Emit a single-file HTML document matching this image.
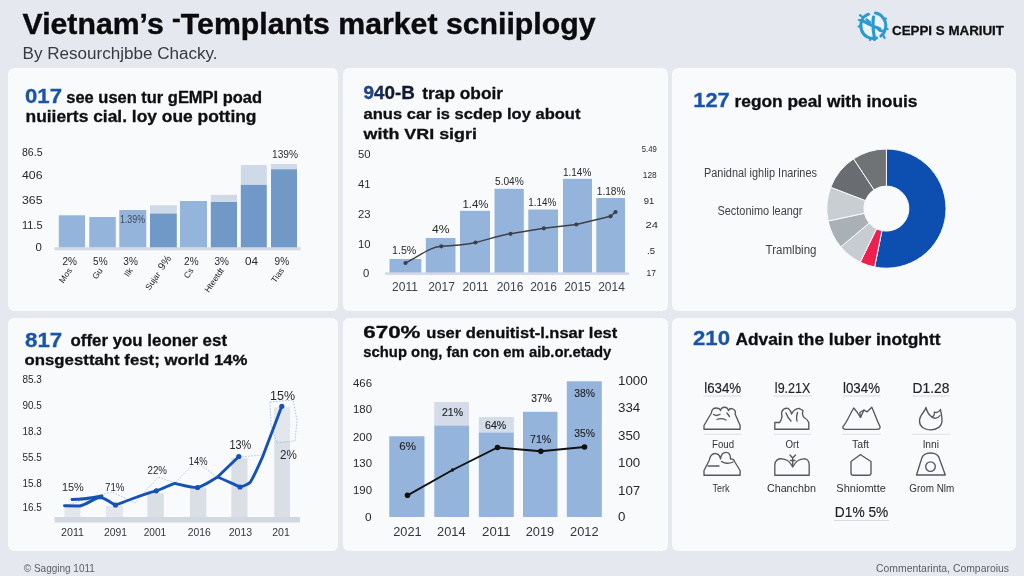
<!DOCTYPE html>
<html lang="en"><head><meta charset="utf-8"><title>Vietnam’s Templants market scniiplogy</title>
<style>
html,body{margin:0;padding:0;}
body{width:1024px;height:576px;overflow:hidden;background:#e5e8ef;font-family:"Liberation Sans", sans-serif;}
#root{position:relative;width:1024px;height:576px;background:linear-gradient(180deg,#e5e8ef 0%,#e5e8ee 100%);overflow:hidden;}
.p{position:absolute;background:#f9fafc;border-radius:6px;filter:blur(0.5px);}
svg{position:absolute;left:0;top:0;filter:blur(0.45px);}
svg text{font-family:"Liberation Sans", sans-serif;}
</style></head><body>
<div id="root">
<div class="p" style="left:8px;top:68.3px;width:330.3px;height:243.2px"></div><div class="p" style="left:343.3px;top:68.3px;width:324.3px;height:243.2px"></div><div class="p" style="left:672.3px;top:68.3px;width:343.3px;height:243.2px"></div><div class="p" style="left:8px;top:317.5px;width:330.3px;height:233.7px"></div><div class="p" style="left:343.3px;top:317.5px;width:324.3px;height:233.7px"></div><div class="p" style="left:672.3px;top:317.5px;width:343.3px;height:233.7px"></div>
<svg width="1024" height="576" viewBox="0 0 1024 576">
<text x="22.5" y="33.9" font-size="30" font-weight="bold" fill="#0b0b0d" stroke="#0b0b0d" stroke-width="0.4" textLength="573" lengthAdjust="spacingAndGlyphs">Vietnam’s <tspan dy="-7" font-size="26">-</tspan><tspan dy="7">Templants market scniiplogy</tspan></text>
<text x="22.5" y="58.8" font-size="15.8" fill="#373a40" textLength="195" lengthAdjust="spacingAndGlyphs">By Resourchjbbe Chacky.</text>
<circle cx="873" cy="26" r="10.5" fill="#edf2f7"/>
<g fill="none" stroke="#2a9ad0" stroke-linecap="round" stroke-linejoin="round"><path d="M868.5 14.2 C862 16.5 859.5 23 861.5 30 C863.5 36.5 870 39.5 876.500 38" stroke-width="3"/><path d="M875.5 13 C880 13.5 883 17 885 21 C887 26 885.5 32.5 881 36" stroke-width="3"/><path d="M873.500 17 C872.500 23 873 29 874 35 L874.500 39.500 M864 21.500 C869 24.500 875 27 880 29" stroke-width="3.2"/><path d="M866.500 19.500 L870 22.500 M878 29 C879.500 31 881.500 31.500 883.500 30.500" stroke-width="2.4"/><path d="M860 15.200 L862.500 17.200 M858.800 20 L861 20.400 M858.600 26.500 L860.800 26 M884.800 19.200 L886 18.600 M886.300 28.800 L887.600 29 M883.500 35.800 L884.600 38 M870 40 L870.500 38.500" stroke-width="2.2"/></g>
<text x="892" y="34.5" font-size="13" fill="#111" font-weight="bold" stroke="#111" stroke-width="0.3" textLength="112" lengthAdjust="spacingAndGlyphs">CEPPI S MARIUIT</text>
<text x="25" y="103.2" font-size="21" fill="#1b55a8" font-weight="bold" stroke="#1b55a8" stroke-width="0.3" textLength="37" lengthAdjust="spacingAndGlyphs">017</text>
<text x="66.3" y="102.8" font-size="15.8" fill="#0d0e11" font-weight="bold" stroke="#0d0e11" stroke-width="0.3" textLength="195.7" lengthAdjust="spacingAndGlyphs">see usen tur gEMPI poad</text>
<text x="25.5" y="121.7" font-size="15.8" fill="#0f1013" font-weight="bold" stroke="#0f1013" stroke-width="0.3" textLength="231" lengthAdjust="spacingAndGlyphs">nuiierts cial. loy oue potting</text>
<text x="22" y="155.6" font-size="11.4" fill="#26282c" textLength="20.5" lengthAdjust="spacingAndGlyphs">86.5</text>
<text x="22" y="179.1" font-size="11.4" fill="#26282c" textLength="20.5" lengthAdjust="spacingAndGlyphs">406</text>
<text x="22" y="204.1" font-size="11.4" fill="#26282c" textLength="20.5" lengthAdjust="spacingAndGlyphs">365</text>
<text x="22" y="229.1" font-size="11.4" fill="#26282c" textLength="20.5" lengthAdjust="spacingAndGlyphs">11.5</text>
<text x="35.5" y="251.1" font-size="11.4" fill="#26282c">0</text>
<rect x="54.5" y="247.2" width="246.0" height="3.1" fill="#d3dae5"/>
<rect x="58.8" y="215.3" width="26.2" height="32.0" fill="#95b4dc"/>
<rect x="89.3" y="217" width="26.5" height="30.3" fill="#95b4dc"/>
<rect x="119.3" y="210" width="27.0" height="37.3" fill="#95b4dc"/>
<rect x="150" y="205.3" width="26.8" height="8.2" fill="#cfdae8"/>
<rect x="150" y="213.5" width="26.8" height="33.8" fill="#7199c7"/>
<rect x="180" y="201" width="27" height="46.3" fill="#95b4dc"/>
<rect x="210.8" y="194.8" width="26.2" height="7.2" fill="#cfdae8"/>
<rect x="210.8" y="202" width="26.2" height="45.3" fill="#7199c7"/>
<rect x="240.8" y="165" width="26.0" height="19.8" fill="#cfdae8"/>
<rect x="240.8" y="184.8" width="26.0" height="62.5" fill="#7199c7"/>
<rect x="271" y="164" width="26" height="5.3" fill="#cfdae8"/>
<rect x="271" y="169.3" width="26" height="78.0" fill="#7199c7"/>
<text x="132.5" y="222.5" font-size="10.5" fill="#3c4a5c" text-anchor="middle" textLength="25" lengthAdjust="spacingAndGlyphs">1.39%</text>
<text x="285" y="158" font-size="10.5" fill="#2c2e33" text-anchor="middle" textLength="26" lengthAdjust="spacingAndGlyphs">139%</text>
<text x="69.7" y="265" font-size="11.5" fill="#26282c" text-anchor="middle" textLength="14.5" lengthAdjust="spacingAndGlyphs">2%</text>
<text transform="translate(72.4,270.5) rotate(-55)" font-size="8.5" fill="#26282c" text-anchor="end">Mos</text>
<text x="100.3" y="265" font-size="11.5" fill="#26282c" text-anchor="middle" textLength="14.5" lengthAdjust="spacingAndGlyphs">5%</text>
<text transform="translate(103.0,270.5) rotate(-55)" font-size="8.5" fill="#26282c" text-anchor="end">Gu</text>
<text x="130.6" y="265" font-size="11.5" fill="#26282c" text-anchor="middle" textLength="14.5" lengthAdjust="spacingAndGlyphs">3%</text>
<text transform="translate(133.3,270.5) rotate(-55)" font-size="8.5" fill="#26282c" text-anchor="end">Ilk</text>
<text transform="translate(167.4,264.5) rotate(-55)" font-size="10.5" fill="#26282c" text-anchor="middle">9%</text>
<text transform="translate(160.9,274.5) rotate(-55)" font-size="8.5" fill="#26282c" text-anchor="end">Sujar</text>
<text x="191.3" y="265" font-size="11.5" fill="#26282c" text-anchor="middle" textLength="14.5" lengthAdjust="spacingAndGlyphs">2%</text>
<text transform="translate(194.0,270.5) rotate(-55)" font-size="8.5" fill="#26282c" text-anchor="end">Cs</text>
<text x="221.7" y="265" font-size="11.5" fill="#26282c" text-anchor="middle" textLength="14.5" lengthAdjust="spacingAndGlyphs">3%</text>
<text transform="translate(224.4,270.5) rotate(-55)" font-size="8.5" fill="#26282c" text-anchor="end">Hteetdt</text>
<text x="251.6" y="265" font-size="11.5" fill="#26282c" text-anchor="middle" textLength="13" lengthAdjust="spacingAndGlyphs">04</text>
<text x="281.8" y="265" font-size="11.5" fill="#26282c" text-anchor="middle" textLength="14.5" lengthAdjust="spacingAndGlyphs">9%</text>
<text transform="translate(284.5,270.5) rotate(-55)" font-size="8.5" fill="#26282c" text-anchor="end">Tias</text>
<text x="363.5" y="98.8" font-size="17.5" font-weight="bold" stroke="#121a30" stroke-width="0.3" fill="#121a30" textLength="51.3" lengthAdjust="spacingAndGlyphs"><tspan fill="#1c4a9c">9</tspan><tspan fill="#17306a">4</tspan>0-B</text>
<text x="422.3" y="98.8" font-size="16" fill="#0d0e11" font-weight="bold" stroke="#0d0e11" stroke-width="0.3" textLength="80.7" lengthAdjust="spacingAndGlyphs">trap oboir</text>
<text x="363.5" y="118.8" font-size="15.2" fill="#0f1013" font-weight="bold" stroke="#0f1013" stroke-width="0.3" textLength="217" lengthAdjust="spacingAndGlyphs">anus car is scdep loy about</text>
<text x="363.5" y="138.8" font-size="15.2" fill="#0f1013" font-weight="bold" stroke="#0f1013" stroke-width="0.3" textLength="113.5" lengthAdjust="spacingAndGlyphs">with VRI sigri</text>
<text x="358" y="157.9" font-size="11.3" fill="#2c2e33">50</text>
<text x="358" y="187.9" font-size="11.3" fill="#2c2e33">41</text>
<text x="358" y="217.9" font-size="11.3" fill="#2c2e33">23</text>
<text x="358" y="247.9" font-size="11.3" fill="#2c2e33">10</text>
<text x="363" y="276.6" font-size="11.3" fill="#2c2e33">0</text>
<text x="649.3" y="151.5" font-size="9.8" fill="#26282c" text-anchor="middle" textLength="15" lengthAdjust="spacingAndGlyphs">5.49</text>
<text x="649.8" y="178.0" font-size="9.8" fill="#26282c" text-anchor="middle" textLength="14" lengthAdjust="spacingAndGlyphs">128</text>
<text x="649" y="203.5" font-size="9.8" fill="#26282c" text-anchor="middle" textLength="10.5" lengthAdjust="spacingAndGlyphs">91</text>
<text x="651.8" y="228.0" font-size="9.8" fill="#26282c" text-anchor="middle" textLength="12.5" lengthAdjust="spacingAndGlyphs">24</text>
<text x="651" y="253.5" font-size="9.8" fill="#26282c" text-anchor="middle" textLength="8" lengthAdjust="spacingAndGlyphs">.5</text>
<text x="651.3" y="276.0" font-size="9.8" fill="#26282c" text-anchor="middle" textLength="9.5" lengthAdjust="spacingAndGlyphs">17</text>
<rect x="385" y="272.3" width="244" height="2.7" fill="#d3dae5"/>
<rect x="389.5" y="259" width="31.8" height="13.5" fill="#95b4dc"/>
<rect x="425.8" y="238" width="29.7" height="34.5" fill="#95b4dc"/>
<rect x="460" y="210.8" width="30" height="61.7" fill="#95b4dc"/>
<rect x="494.5" y="188.8" width="29.3" height="83.7" fill="#95b4dc"/>
<rect x="528.3" y="209.5" width="29.7" height="63.0" fill="#95b4dc"/>
<rect x="563" y="178.8" width="29" height="93.7" fill="#95b4dc"/>
<rect x="596.3" y="198" width="28.7" height="74.5" fill="#95b4dc"/>
<path d="M405.5 263 C420 256 428 247.5 441.3 246.3 C455 245 463 245.5 475.5 242.5 C488 239.5 497 236 510.5 233.8 L543.8 228.3 L576.3 224.5 L610.5 216.3 L615.5 212" fill="none" stroke="#3c4148" stroke-width="1.4"/>
<circle cx="405.5" cy="263" r="2.1" fill="#3c4148"/>
<circle cx="441.3" cy="246.3" r="2.1" fill="#3c4148"/>
<circle cx="475.5" cy="242.5" r="2.1" fill="#3c4148"/>
<circle cx="510.5" cy="233.8" r="2.1" fill="#3c4148"/>
<circle cx="543.8" cy="228.3" r="2.1" fill="#3c4148"/>
<circle cx="576.3" cy="224.5" r="2.1" fill="#3c4148"/>
<circle cx="610.5" cy="216.3" r="2.1" fill="#3c4148"/>
<circle cx="615.5" cy="212" r="2.1" fill="#3c4148"/>
<text x="392" y="254.3" font-size="11.5" fill="#26282c" textLength="24.3" lengthAdjust="spacingAndGlyphs">1.5%</text>
<text x="432" y="233.3" font-size="11.5" fill="#26282c" textLength="17.5" lengthAdjust="spacingAndGlyphs">4%</text>
<text x="462.5" y="208" font-size="11.5" fill="#26282c" textLength="26.0" lengthAdjust="spacingAndGlyphs">1.4%</text>
<text x="495" y="185.3" font-size="11.5" fill="#26282c" textLength="28.8" lengthAdjust="spacingAndGlyphs">5.04%</text>
<text x="528.3" y="206" font-size="11.5" fill="#26282c" textLength="28.0" lengthAdjust="spacingAndGlyphs">1.14%</text>
<text x="563" y="175.5" font-size="11.5" fill="#26282c" textLength="28.3" lengthAdjust="spacingAndGlyphs">1.14%</text>
<text x="596.8" y="194.5" font-size="11.5" fill="#26282c" textLength="28.7" lengthAdjust="spacingAndGlyphs">1.18%</text>
<text x="405" y="290.5" font-size="12" fill="#3f4247" text-anchor="middle">2011</text>
<text x="441.5" y="290.5" font-size="12" fill="#3f4247" text-anchor="middle">2017</text>
<text x="475.5" y="290.5" font-size="12" fill="#3f4247" text-anchor="middle">2011</text>
<text x="510" y="290.5" font-size="12" fill="#3f4247" text-anchor="middle">2016</text>
<text x="543.5" y="290.5" font-size="12" fill="#3f4247" text-anchor="middle">2016</text>
<text x="577.5" y="290.5" font-size="12" fill="#3f4247" text-anchor="middle">2015</text>
<text x="611.5" y="290.5" font-size="12" fill="#3f4247" text-anchor="middle">2014</text>
<text x="693.3" y="106.8" font-size="20.5" fill="#1b55a8" font-weight="bold" stroke="#1b55a8" stroke-width="0.3" textLength="36.5" lengthAdjust="spacingAndGlyphs">127</text>
<text x="734.5" y="106.5" font-size="16" fill="#0d0e11" font-weight="bold" stroke="#0d0e11" stroke-width="0.3" textLength="183.0" lengthAdjust="spacingAndGlyphs">regon peal with inouis</text>
<text x="817" y="177.3" font-size="12" fill="#3f4247" text-anchor="end" textLength="113" lengthAdjust="spacingAndGlyphs">Panidnal ighlip Inarines</text>
<text x="802.5" y="215" font-size="12" fill="#3f4247" text-anchor="end" textLength="85" lengthAdjust="spacingAndGlyphs">Sectonimo leangr</text>
<text x="816.5" y="253.7" font-size="12" fill="#3f4247" text-anchor="end" textLength="51" lengthAdjust="spacingAndGlyphs">Tramlbing</text>
<path d="M886.4 149.0 A59.6 59.6 0 1 1 874.62 267.02 L881.95 230.66 A22.5 22.5 0 1 0 886.4 186.1 Z" fill="#0c4fb0" stroke="#f9fafc" stroke-width="1"/>
<path d="M874.62 267.02 A59.6 59.6 0 0 1 860.27 262.17 L876.54 228.82 A22.5 22.5 0 0 0 881.95 230.66 Z" fill="#ef1f4f" stroke="#f9fafc" stroke-width="1"/>
<path d="M860.27 262.17 A59.6 59.6 0 0 1 840.74 246.91 L869.16 223.06 A22.5 22.5 0 0 0 876.54 228.82 Z" fill="#c6ccd1" stroke="#f9fafc" stroke-width="1"/>
<path d="M840.74 246.91 A59.6 59.6 0 0 1 828.1 220.99 L864.39 213.28 A22.5 22.5 0 0 0 869.16 223.06 Z" fill="#aab1b6" stroke="#f9fafc" stroke-width="1"/>
<path d="M828.1 220.99 A59.6 59.6 0 0 1 830.76 187.24 L865.39 200.54 A22.5 22.5 0 0 0 864.39 213.28 Z" fill="#c8ced2" stroke="#f9fafc" stroke-width="1"/>
<path d="M830.76 187.24 A59.6 59.6 0 0 1 853.59 158.84 L874.01 189.82 A22.5 22.5 0 0 0 865.39 200.54 Z" fill="#696c70" stroke="#f9fafc" stroke-width="1"/>
<path d="M853.59 158.84 A59.6 59.6 0 0 1 886.4 149.0 L886.4 186.1 A22.5 22.5 0 0 0 874.01 189.82 Z" fill="#707376" stroke="#f9fafc" stroke-width="1"/>
<text x="25" y="346.8" font-size="21" fill="#1b55a8" font-weight="bold" stroke="#1b55a8" stroke-width="0.3" textLength="37.3" lengthAdjust="spacingAndGlyphs">817</text>
<text x="70.5" y="346.3" font-size="16.3" fill="#0d0e11" font-weight="bold" stroke="#0d0e11" stroke-width="0.3" textLength="156.5" lengthAdjust="spacingAndGlyphs">offer you leoner est</text>
<text x="24.5" y="365" font-size="14.8" fill="#0f1013" font-weight="bold" stroke="#0f1013" stroke-width="0.3" textLength="223" lengthAdjust="spacingAndGlyphs">onsgesttaht fest; world 14%</text>
<text x="22.5" y="382.90000000000003" font-size="11.4" fill="#26282c" textLength="19.3" lengthAdjust="spacingAndGlyphs">85.3</text>
<text x="22.5" y="409.1" font-size="11.4" fill="#26282c" textLength="19.3" lengthAdjust="spacingAndGlyphs">90.5</text>
<text x="22.5" y="434.90000000000003" font-size="11.4" fill="#26282c" textLength="19.3" lengthAdjust="spacingAndGlyphs">18.3</text>
<text x="22.5" y="461.1" font-size="11.4" fill="#26282c" textLength="19.3" lengthAdjust="spacingAndGlyphs">55.5</text>
<text x="22.5" y="486.6" font-size="11.4" fill="#26282c" textLength="19.3" lengthAdjust="spacingAndGlyphs">15.8</text>
<text x="22.5" y="511.1" font-size="11.4" fill="#26282c" textLength="19.3" lengthAdjust="spacingAndGlyphs">16.5</text>
<rect x="64.5" y="507" width="16.0" height="10.5" fill="#e3e7ed"/>
<rect x="106" y="505.8" width="17" height="11.7" fill="#e3e7ed"/>
<rect x="147.5" y="493.3" width="16.3" height="24.2" fill="#dadfe6"/>
<rect x="190" y="487.5" width="16.3" height="30.0" fill="#dadfe6"/>
<rect x="231.3" y="458.3" width="16.2" height="59.2" fill="#dadfe6"/>
<rect x="274.3" y="407.5" width="15.7" height="110.0" fill="#dadfe6"/>
<rect x="54.5" y="517" width="245.5" height="5.5" fill="#d2d8e0"/>
<rect x="274.3" y="407.5" width="15.7" height="33.5" fill="#e3e7ed"/>
<path d="M64 506 L100 495 L112 492 L135 503 L158 477 L175 483 L196 461 L218 478 L240 457 L262 455" fill="none" stroke="#8fb0e0" stroke-width="0.8" stroke-dasharray="1.5 1.5" opacity="0.9"/>
<path d="M270 402 L293 400 L297 420 L295 441 L277 443 L271 425 Z" fill="none" stroke="#9db4d6" stroke-width="0.8" stroke-dasharray="1.5 1.5"/>
<path d="M64.5 505.8 L80 506 C88 504 94 498 100 497.5 C106 498 110 503 115.5 505 C128 501 142 494 156.3 490.8 C163 489 169 485 175 483.3 C182 485 190 487.5 197.5 487.5 C205 485.5 211 481 217.500 477 C225 480 233 484 240 487 C244 486 248 484.5 250.5 482 C255 474 259 465 263 455.8 L281.8 406.3" fill="none" stroke="#1552b6" stroke-width="2.9" stroke-linejoin="round" stroke-linecap="round"/>
<path d="M217.5 477 L238.8 456.5" fill="none" stroke="#1552b6" stroke-width="2.9" stroke-linecap="round"/>
<path d="M72 499.5 C82 499.5 92 498 102 496" fill="none" stroke="#1552b6" stroke-width="2.9" stroke-linecap="round"/>
<circle cx="115.5" cy="505" r="2.6" fill="#1552b6"/>
<circle cx="156.3" cy="490.8" r="2.6" fill="#1552b6"/>
<circle cx="197.5" cy="487.5" r="2.6" fill="#1552b6"/>
<circle cx="240" cy="487" r="2.6" fill="#1552b6"/>
<circle cx="238.8" cy="456.5" r="2.6" fill="#1552b6"/>
<circle cx="281.8" cy="406.3" r="2.6" fill="#1552b6"/>
<text x="62" y="490.7" font-size="11.7" fill="#26282c" textLength="21.8" lengthAdjust="spacingAndGlyphs">15%</text>
<text x="105" y="490.7" font-size="11.7" fill="#26282c" textLength="19.5" lengthAdjust="spacingAndGlyphs">71%</text>
<text x="147.5" y="474.2" font-size="11.5" fill="#26282c" textLength="19.5" lengthAdjust="spacingAndGlyphs">22%</text>
<text x="188.8" y="464.6" font-size="11.5" fill="#26282c" textLength="18.7" lengthAdjust="spacingAndGlyphs">14%</text>
<text x="229.5" y="448.8" font-size="12" fill="#26282c" textLength="21.8" lengthAdjust="spacingAndGlyphs">13%</text>
<text x="270" y="399.6" font-size="13" fill="#26282c" textLength="25" lengthAdjust="spacingAndGlyphs">15%</text>
<text x="280" y="459" font-size="12" fill="#26282c" textLength="16.8" lengthAdjust="spacingAndGlyphs">2%</text>
<text x="72.5" y="535.8" font-size="11.5" fill="#33363b" text-anchor="middle" textLength="23" lengthAdjust="spacingAndGlyphs">2011</text>
<text x="115.5" y="535.8" font-size="11.5" fill="#33363b" text-anchor="middle" textLength="23" lengthAdjust="spacingAndGlyphs">2091</text>
<text x="155" y="535.8" font-size="11.5" fill="#33363b" text-anchor="middle" textLength="22.5" lengthAdjust="spacingAndGlyphs">2001</text>
<text x="199.3" y="535.8" font-size="11.5" fill="#33363b" text-anchor="middle" textLength="23" lengthAdjust="spacingAndGlyphs">2016</text>
<text x="240.5" y="535.8" font-size="11.5" fill="#33363b" text-anchor="middle" textLength="23.5" lengthAdjust="spacingAndGlyphs">2013</text>
<text x="281" y="535.8" font-size="11.5" fill="#33363b" text-anchor="middle" textLength="17.5" lengthAdjust="spacingAndGlyphs">201</text>
<text x="363.3" y="337.5" font-size="16.5" fill="#0d0e11" font-weight="bold" stroke="#0d0e11" stroke-width="0.3" textLength="57.2" lengthAdjust="spacingAndGlyphs">670%</text>
<text x="426.3" y="337.5" font-size="15.5" fill="#0d0e11" font-weight="bold" stroke="#0d0e11" stroke-width="0.3" textLength="191" lengthAdjust="spacingAndGlyphs">user denuitist-l.nsar lest</text>
<text x="363.3" y="357" font-size="15.5" fill="#0f1013" font-weight="bold" stroke="#0f1013" stroke-width="0.3" textLength="248" lengthAdjust="spacingAndGlyphs">schup ong, fan con em aib.or.etady</text>
<text x="353" y="387.2" font-size="11.8" fill="#26282c" textLength="19" lengthAdjust="spacingAndGlyphs">466</text>
<text x="353" y="413.0" font-size="11.8" fill="#26282c" textLength="19" lengthAdjust="spacingAndGlyphs">180</text>
<text x="353" y="440.5" font-size="11.8" fill="#26282c" textLength="19" lengthAdjust="spacingAndGlyphs">200</text>
<text x="353" y="466.7" font-size="11.8" fill="#26282c" textLength="19" lengthAdjust="spacingAndGlyphs">130</text>
<text x="353" y="494.2" font-size="11.8" fill="#26282c" textLength="19" lengthAdjust="spacingAndGlyphs">190</text>
<text x="365" y="521.3" font-size="11.8" fill="#26282c">0</text>
<text x="618" y="385.2" font-size="13.3" fill="#26282c">1000</text>
<text x="618" y="412.2" font-size="13.3" fill="#26282c">334</text>
<text x="618" y="439.7" font-size="13.3" fill="#26282c">350</text>
<text x="618" y="467.2" font-size="13.3" fill="#26282c">100</text>
<text x="618" y="494.7" font-size="13.3" fill="#26282c">107</text>
<text x="618" y="521.2" font-size="13.3" fill="#26282c">0</text>
<rect x="389.3" y="436.3" width="35.2" height="80.7" fill="#95b4dc"/>
<rect x="434.3" y="402" width="34.7" height="23.5" fill="#d3dce8"/>
<rect x="434.3" y="425.5" width="34.7" height="91.5" fill="#95b4dc"/>
<rect x="478.8" y="417" width="35.0" height="15.5" fill="#d3dce8"/>
<rect x="478.8" y="432.5" width="35.0" height="84.5" fill="#95b4dc"/>
<rect x="523" y="411.8" width="34.5" height="105.2" fill="#95b4dc"/>
<rect x="566.8" y="381.3" width="35.0" height="135.7" fill="#95b4dc"/>
<polyline points="407.5,495.3 452.5,470 497.5,447.5 540.8,451.3 584.5,447" fill="none" stroke="#111" stroke-width="1.9"/>
<circle cx="407.5" cy="495.3" r="2.8" fill="#111"/>
<circle cx="452.5" cy="470" r="1.7" fill="#111"/>
<circle cx="497.5" cy="447.5" r="2.8" fill="#111"/>
<circle cx="540.8" cy="451.3" r="2.8" fill="#111"/>
<circle cx="584.5" cy="447" r="2.8" fill="#111"/>
<text x="399.3" y="450.3" font-size="11" fill="#23272e" stroke="#23272e" stroke-width="0.15" textLength="16.7" lengthAdjust="spacingAndGlyphs">6%</text>
<text x="442" y="415.7" font-size="11" fill="#23272e" stroke="#23272e" stroke-width="0.15" textLength="21" lengthAdjust="spacingAndGlyphs">21%</text>
<text x="485" y="429.3" font-size="11" fill="#23272e" stroke="#23272e" stroke-width="0.15" textLength="21.3" lengthAdjust="spacingAndGlyphs">64%</text>
<text x="531.3" y="402" font-size="11" fill="#23272e" stroke="#23272e" stroke-width="0.15" textLength="20.5" lengthAdjust="spacingAndGlyphs">37%</text>
<text x="530" y="442.7" font-size="11" fill="#23272e" stroke="#23272e" stroke-width="0.15" textLength="21.3" lengthAdjust="spacingAndGlyphs">71%</text>
<text x="574.3" y="396.5" font-size="11" fill="#23272e" stroke="#23272e" stroke-width="0.15" textLength="20.7" lengthAdjust="spacingAndGlyphs">38%</text>
<text x="574.3" y="436.5" font-size="11" fill="#23272e" stroke="#23272e" stroke-width="0.15" textLength="20.7" lengthAdjust="spacingAndGlyphs">35%</text>
<text x="407.5" y="535.6" font-size="12.8" fill="#33363b" text-anchor="middle" textLength="28.5" lengthAdjust="spacingAndGlyphs">2021</text>
<text x="451.3" y="535.6" font-size="12.8" fill="#33363b" text-anchor="middle" textLength="28.5" lengthAdjust="spacingAndGlyphs">2014</text>
<text x="496.3" y="535.6" font-size="12.8" fill="#33363b" text-anchor="middle" textLength="28.5" lengthAdjust="spacingAndGlyphs">2011</text>
<text x="540" y="535.6" font-size="12.8" fill="#33363b" text-anchor="middle" textLength="28.5" lengthAdjust="spacingAndGlyphs">2019</text>
<text x="584.3" y="535.6" font-size="12.8" fill="#33363b" text-anchor="middle" textLength="28.5" lengthAdjust="spacingAndGlyphs">2012</text>
<text x="693" y="345.3" font-size="20.5" fill="#1b55a8" font-weight="bold" stroke="#1b55a8" stroke-width="0.3" textLength="37" lengthAdjust="spacingAndGlyphs">210</text>
<text x="735.5" y="345" font-size="16" fill="#0d0e11" font-weight="bold" stroke="#0d0e11" stroke-width="0.3" textLength="205.0" lengthAdjust="spacingAndGlyphs">Advain the luber inotghtt</text>
<text x="722.7" y="393" font-size="14" fill="#202226" stroke="#202226" stroke-width="0.15" text-anchor="middle" textLength="37" lengthAdjust="spacingAndGlyphs">l634%</text>
<line x1="703.7" y1="396" x2="741.7" y2="396" stroke="#cfd3d8" stroke-width="0.8"/>
<line x1="703.7" y1="434.3" x2="741.7" y2="434.3" stroke="#d8dbe0" stroke-width="0.8"/>
<text x="792.6" y="393" font-size="14" fill="#202226" stroke="#202226" stroke-width="0.15" text-anchor="middle" textLength="35.5" lengthAdjust="spacingAndGlyphs">l9.21X</text>
<line x1="773.6" y1="396" x2="811.6" y2="396" stroke="#cfd3d8" stroke-width="0.8"/>
<line x1="773.6" y1="434.3" x2="811.6" y2="434.3" stroke="#d8dbe0" stroke-width="0.8"/>
<text x="861.5" y="393" font-size="14" fill="#202226" stroke="#202226" stroke-width="0.15" text-anchor="middle" textLength="37" lengthAdjust="spacingAndGlyphs">l034%</text>
<line x1="842.5" y1="396" x2="880.5" y2="396" stroke="#cfd3d8" stroke-width="0.8"/>
<line x1="842.5" y1="434.3" x2="880.5" y2="434.3" stroke="#d8dbe0" stroke-width="0.8"/>
<text x="931" y="393" font-size="14" fill="#202226" stroke="#202226" stroke-width="0.15" text-anchor="middle" textLength="36.8" lengthAdjust="spacingAndGlyphs">D1.28</text>
<line x1="912" y1="396" x2="950" y2="396" stroke="#cfd3d8" stroke-width="0.8"/>
<line x1="912" y1="434.3" x2="950" y2="434.3" stroke="#d8dbe0" stroke-width="0.8"/>
<g fill="none" stroke="#55585d" stroke-width="1.35" stroke-linejoin="round" stroke-linecap="round"><path d="M704 429.2 L704 425.5 L711.4 413 C711.5 409.5 714 407.8 716.5 408 C718.5 408 720 409.2 720.5 410.6 C721 408.5 722.5 407.2 724.5 407.2 C726.5 407.2 728 408.6 728.4 410.6 C729.5 408.8 731.5 408.2 733 409 C735 410 735.8 412 735.1 414 L740.1 425.5 L740.1 429.2 Z"/><path d="M717 419.5 C720 418 723 418.5 726 420 M713.5 414.5 C715.5 415.8 718 415.6 720 414.2 M727 413 L729.5 416.5"/><path d="M774.8 429.2 L774.8 422.5 L779.5 422.5 C781.5 420 782.5 417 781.5 413 C782 409.5 785 407.8 788 408.3 C790 410 791.3 412 791.6 414 C793 411 796 408.5 799 408.3 L803 410.5 C802 413 802.5 415.5 804 417.5 C806 418.5 808 420 808.8 422.5 L808.8 429.2 Z"/><path d="M786 413 C787 416 788.5 418.5 791 421 M797.5 412.5 C796.5 416 796 418.5 797 421"/><path d="M843 426.5 C847 422 850 414 853.7 408 L857 412 L860.5 417.4 L863.9 410.2 L867.2 411.8 L871.8 407.2 C875 414 877 421 880 426.5 C880.5 428.5 879 429.3 877 429.3 L846 429.3 C843.5 429.3 842.3 428 843 426.5 Z"/><path d="M860.5 417.4 L859.8 412.5 L863.9 410.2"/><path d="M926 407.5 C925 412 919.5 414.5 919.5 421 C919.5 426.5 924 429.8 930.5 429.8 C937 429.8 942 426.5 942 420.5 C942 416 941 412.5 940.5 409.5 C939 412 936.5 413 934.5 412 C934.5 414.5 933.5 416.5 932 417 C929.5 415.5 927 411.5 926 407.5 Z"/><path d="M932 417 C934 419 938 418.5 940 415.5"/></g>
<text x="723" y="447.8" font-size="10" fill="#303236" text-anchor="middle" textLength="22" lengthAdjust="spacingAndGlyphs">Foud</text>
<text x="792.3" y="447.8" font-size="10" fill="#303236" text-anchor="middle" textLength="13.5" lengthAdjust="spacingAndGlyphs">Ort</text>
<text x="860.5" y="447.8" font-size="10" fill="#303236" text-anchor="middle" textLength="17" lengthAdjust="spacingAndGlyphs">Taft</text>
<text x="931" y="447.8" font-size="10" fill="#303236" text-anchor="middle" textLength="16" lengthAdjust="spacingAndGlyphs">lnni</text>
<g fill="none" stroke="#55585d" stroke-width="1.35" stroke-linejoin="round" stroke-linecap="round"><path d="M704 475.2 L704 470.5 L709.2 460.5 C710 456 712 453.5 715 453.5 C718 453.5 720 456 720.5 459 C721 455 723 452.4 726 452.4 C729 452.4 730.5 455.5 730.5 459 C732 458.5 734 459.5 734.5 461.5 L740.1 470.5 L740.1 475.2 Z"/><path d="M708 466 L719 466 M721.5 461.5 C724 463.5 729 464 733 462"/><path d="M774.8 475.2 L774.8 465 C774.8 460.5 778 458.6 782 458.8 C785.5 459 788.5 460.5 790.5 463.5 L792.7 467 L795 463.5 C797 460.5 800 459 803.5 458.8 C807 458.6 809.2 460.5 809.2 465 L809.2 475.2 Z"/><path d="M792.7 466 L792.7 458 M790 455 L792.7 458 L795.5 455 M790.5 460.5 L795 460.5"/><path d="M851 473 L851 461.5 L858.5 456 L860.5 454.5 L862.5 456 L871 461.5 L871 473 C871 474.5 870 475.2 868.5 475.2 L853.5 475.2 C852 475.2 851 474.5 851 473 Z"/><path d="M916.5 475 L921.5 459 C922.5 455 925.5 453 930.5 453 C935.5 453 938.5 455 939.5 459 L945.3 475 Z"/><circle cx="930.5" cy="466.6" r="4.8"/></g>
<text x="721" y="492.3" font-size="11" fill="#303236" text-anchor="middle" textLength="17" lengthAdjust="spacingAndGlyphs">Terk</text>
<text x="791.4" y="492.3" font-size="11" fill="#303236" text-anchor="middle" textLength="49" lengthAdjust="spacingAndGlyphs">Chanchbn</text>
<text x="861.1" y="492.3" font-size="11" fill="#303236" text-anchor="middle" textLength="49.5" lengthAdjust="spacingAndGlyphs">Shniomtte</text>
<text x="931.8" y="492.3" font-size="11" fill="#303236" text-anchor="middle" textLength="45" lengthAdjust="spacingAndGlyphs">Grom Nlm</text>
<text x="861.6" y="517" font-size="15.5" fill="#202226" stroke="#202226" stroke-width="0.15" text-anchor="middle" textLength="53.5" lengthAdjust="spacingAndGlyphs">D1% 5%</text>
<line x1="834" y1="520.5" x2="889" y2="520.5" stroke="#cfd3d8" stroke-width="0.8"/>
<text x="23.8" y="572" font-size="11" fill="#5c5f66" textLength="71" lengthAdjust="spacingAndGlyphs">© Sagging 1011</text>
<text x="876" y="571.5" font-size="11.5" fill="#5c5f66" textLength="133" lengthAdjust="spacingAndGlyphs">Commentarinta, Comparoius</text>
</svg>
</div>
</body></html>
